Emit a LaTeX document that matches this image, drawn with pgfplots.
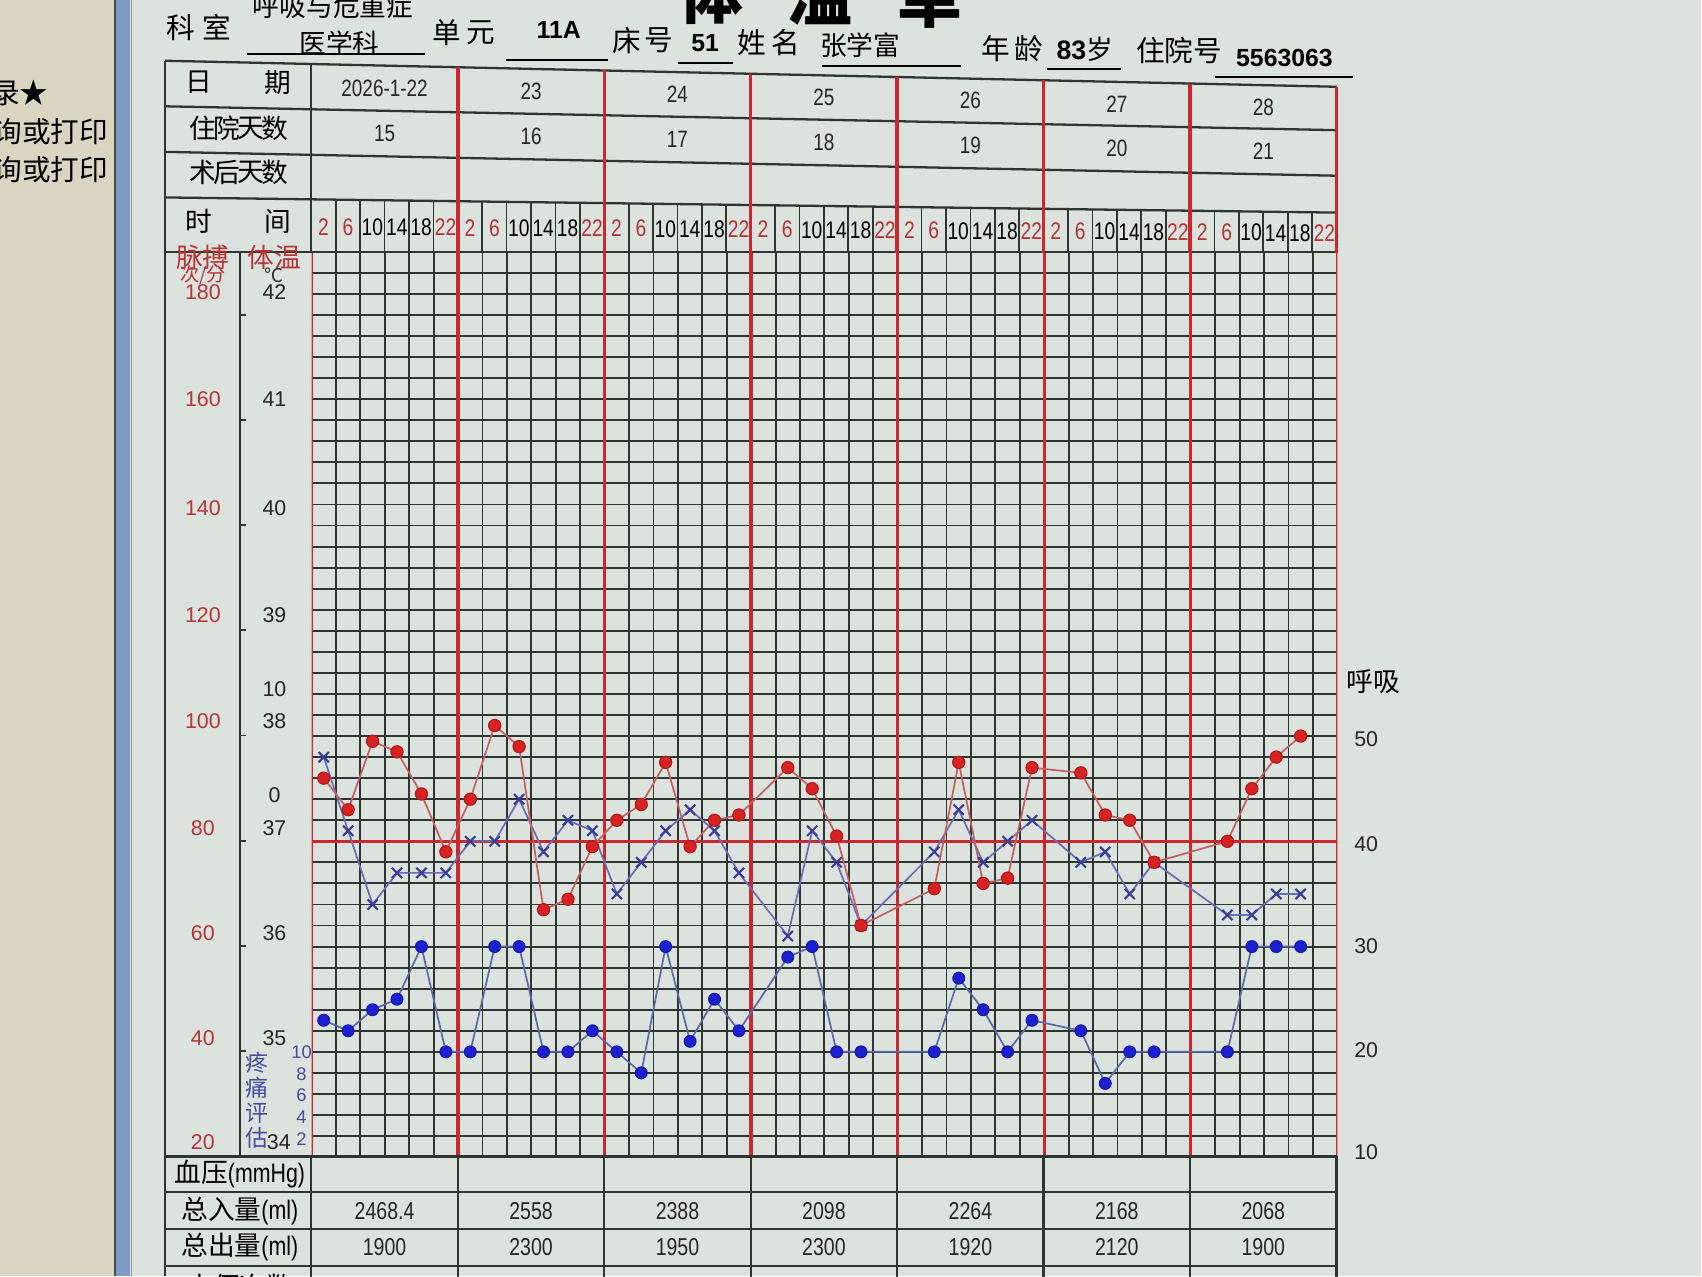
\documentclass[border=0pt]{standalone}
\usepackage{pgfplots}
\pgfplotsset{compat=1.18}
\usepackage{pgfplotstable}
\usepackage{fontspec}
\setmainfont{Noto Sans CJK SC}
\newfontfamily\numfont[FakeStretch=0.8]{Liberation Sans}
\newfontfamily\digfont{Liberation Sans}

\definecolor{bgc}{HTML}{DCE3DE}
\definecolor{leftbg}{HTML}{D8D6C1}
\definecolor{barc}{HTML}{7C9CC2}
\definecolor{gridc}{HTML}{2F3632}
\definecolor{dayred}{HTML}{C8282E}
\definecolor{pulsec}{HTML}{D82222}
\definecolor{pulseln}{HTML}{C46060}
\definecolor{tempc}{HTML}{3A3C9C}
\definecolor{templn}{HTML}{6A6CB4}
\definecolor{respc}{HTML}{1C20D0}
\definecolor{respln}{HTML}{5C68A8}
\definecolor{labred}{HTML}{B83434}
\definecolor{painc}{HTML}{4A4A9E}

\pgfplotstableread{
x p
0.5 92
1.5 86
2.5 99
3.5 97
4.5 89
5.5 78
6.5 88
7.5 102
8.5 98
9.5 67
10.5 69
11.5 79
12.5 84
13.5 87
14.5 95
15.5 79
16.5 84
17.5 85
19.5 94
20.5 90
21.5 81
22.5 64
25.5 71
26.5 95
27.5 72
28.5 73
29.5 94
31.5 93
32.5 85
33.5 84
34.5 76
37.5 80
38.5 90
39.5 96
40.5 100
}\tbpulse

\pgfplotstableread{
x t
0.5 37.8
1.5 37.1
2.5 36.4
3.5 36.7
4.5 36.7
5.5 36.7
6.5 37.0
7.5 37.0
8.5 37.4
9.5 36.9
10.5 37.2
11.5 37.1
12.5 36.5
13.5 36.8
14.5 37.1
15.5 37.3
16.5 37.1
17.5 36.7
19.5 36.1
20.5 37.1
21.5 36.8
22.5 36.2
25.5 36.9
26.5 37.3
27.5 36.8
28.5 37.0
29.5 37.2
31.5 36.8
32.5 36.9
33.5 36.5
34.5 36.8
37.5 36.3
38.5 36.3
39.5 36.5
40.5 36.5
}\tbtemp

\pgfplotstableread{
x r
0.5 23
1.5 22
2.5 24
3.5 25
4.5 30
5.5 20
6.5 20
7.5 30
8.5 30
9.5 20
10.5 20
11.5 22
12.5 20
13.5 18
14.5 30
15.5 21
16.5 25
17.5 22
19.5 29
20.5 30
21.5 20
22.5 20
25.5 20
26.5 27
27.5 24
28.5 20
29.5 23
31.5 22
32.5 17
33.5 20
34.5 20
37.5 20
38.5 30
39.5 30
40.5 30
}\tbresp

\begin{document}
\begin{tikzpicture}
\path[use as bounding box] (0,0) rectangle (15.68cm,-11.76cm);
\clip (0,0) rectangle (15.68cm,-11.76cm);
\begin{scope}[x=0.01cm,y=-0.01cm]
\fill[bgc] (0,0) rectangle (1568,1176);
\fill[leftbg] (0,0) rectangle (106,1176);
\node[anchor=east,font=\fontsize{7.5}{8}\selectfont] at (57,85) {护理记录★};
\node[anchor=east,font=\fontsize{7.5}{8}\selectfont] at (112,121) {记录（查询或打印};
\node[anchor=east,font=\fontsize{7.5}{8}\selectfont] at (112,156) {报表（查询或打印};
\fill[barc] (106,0) rectangle (120,1176);
\draw[black!70,line width=0.5pt] (106,0) -- (106,1176);
\draw[black!40,line width=0.4pt] (121,0) -- (121,1176);
% title
\node[font=\fontsize{17}{18}\selectfont\bfseries] at (655,-6) {体};
\node[font=\fontsize{17}{18}\selectfont\bfseries] at (756,-4) {温};
\node[font=\fontsize{17}{18}\selectfont\bfseries] at (857,-2) {单};
% header line
\node[font=\fontsize{7.5}{8}\selectfont] at (167,25) {科};
\node[font=\fontsize{7.5}{8}\selectfont] at (200,25) {室};
\node[font=\fontsize{7}{8}\selectfont] at (307,6) {呼吸与危重症};
\node[font=\fontsize{7}{8}\selectfont] at (313,40) {医学科};
\draw[black,line width=0.5pt] (228,50) -- (392,50);
\node[font=\fontsize{7.5}{8}\selectfont] at (412,30) {单};
\node[font=\fontsize{7.5}{8}\selectfont] at (443,30) {元};
\node[font=\digfont\fontsize{6.5}{7}\selectfont\bfseries] at (515,28) {11A};
\draw[black,line width=0.5pt] (466,55) -- (560,55);
\node[font=\fontsize{7.5}{8}\selectfont] at (578,37) {床};
\node[font=\fontsize{7.5}{8}\selectfont] at (607,37) {号};
\node[font=\digfont\fontsize{6.5}{7}\selectfont\bfseries] at (650,40) {51};
\draw[black,line width=0.5pt] (625,58) -- (676,58);
\node[font=\fontsize{7.5}{8}\selectfont] at (693,39) {姓};
\node[font=\fontsize{7.5}{8}\selectfont] at (724,39) {名};
\node[font=\fontsize{7}{8}\selectfont] at (793,42) {张学富};
\draw[black,line width=0.5pt] (758,61) -- (886,61);
\node[font=\fontsize{7.5}{8}\selectfont] at (918,45) {年};
\node[font=\fontsize{7.5}{8}\selectfont] at (948,45) {龄};
\node[font=\fontsize{7}{8}\selectfont] at (1000,45) {\digfont\bfseries 83\normalfont 岁};
\draw[black,line width=0.5pt] (965,64) -- (1033,64);
\node[font=\fontsize{7.5}{8}\selectfont] at (1087,47) {住院号};
\node[font=\digfont\fontsize{6.5}{7}\selectfont\bfseries] at (1184,53) {5563063};
\draw[black,line width=0.5pt] (1120,71) -- (1247,71);
\end{scope}

\begin{axis}[
  at={(2.87cm,-10.66cm)}, anchor=south west,
  width=9.45cm, height=8.34cm, scale only axis,
  xmin=0, xmax=42, ymin=34, ymax=42.6,
  xtick=\empty, ytick=\empty,
  axis line style={draw=none},
]
\pgfplotsinvokeforeach{0,...,43}{\draw[gridc,line width=0.5pt] (axis cs:0,{34+0.2*#1}) -- (axis cs:42,{34+0.2*#1});}
\pgfplotsinvokeforeach{1,...,41}{\draw[gridc,line width=0.5pt] (axis cs:#1,34) -- (axis cs:#1,42.6);}
\draw[dayred,line width=0.8pt] (axis cs:0,37) -- (axis cs:42,37);
\pgfplotsinvokeforeach{0,6,12,18,24,30,36,42}{\draw[dayred,line width=0.9pt] (axis cs:#1,34) -- (axis cs:#1,42.6);}
\addplot[templn,line width=0.45pt,mark=x,mark size=1.9pt,mark options={draw=tempc,line width=0.55pt}] table[x=x,y=t] {\tbtemp};
\addplot[pulseln,line width=0.45pt,mark=*,mark size=1.6pt,mark options={fill=pulsec,draw=pulsec!80!black,line width=0.3pt}] table[x=x,y expr={(\thisrow{p}+660)/20}] {\tbpulse};
\addplot[respln,line width=0.45pt,mark=*,mark size=1.55pt,mark options={fill=respc,draw=respc!80!black,line width=0.3pt}] table[x=x,y expr={(\thisrow{r}+330)/10}] {\tbresp};
\end{axis}

\begin{scope}[x=0.01cm,y=-0.01cm]
% header table
\draw[gridc,line width=0.6pt] (152,56) -- (1232,80);
\draw[gridc,line width=0.6pt] (152,98) -- (1232,120);
\draw[gridc,line width=0.6pt] (152,140) -- (1232,162);
\draw[gridc,line width=0.6pt] (152,182) -- (1232,196);
\draw[gridc,line width=0.6pt] (152,232) -- (1232,232);
\foreach \j in {1,...,41}{
  \pgfmathsetmacro\xx{287+22.5*\j}
  \pgfmathsetmacro\yy{182+(\xx-152)/1080*14}
  \draw[gridc,line width=0.45pt] (\xx,\yy) -- (\xx,232);
}
\foreach \k in {1,...,7}{
  \pgfmathsetmacro\xx{287+135*\k}
  \pgfmathsetmacro\yy{56+(\xx-152)/1080*24}
  \draw[dayred,line width=0.9pt] (\xx,\yy) -- (\xx,233);
}
\draw[gridc,line width=0.6pt] (287,59) -- (287,232);
\draw[gridc,line width=0.7pt] (152,56) -- (152,1176);
\draw[gridc,line width=0.6pt] (221,232) -- (221,1066);
\foreach \t in {35,...,42}{
  \draw[gridc,line width=0.5pt] (221,{1066-97*(\t-34)}) -- (227,{1066-97*(\t-34)});
}
% left labels
\node[font=\fontsize{7}{8}\selectfont] at (183,76) {日};
\node[font=\fontsize{7}{8}\selectfont] at (256,76) {期};
\foreach \c [count=\i from 0] in {住,院,天,数}{
  \node[font=\fontsize{7}{8}\selectfont] at ({187+22*\i},118) {\c};
}
\foreach \c [count=\i from 0] in {术,后,天,数}{
  \node[font=\fontsize{7}{8}\selectfont] at ({187+22*\i},159) {\c};
}
\node[font=\fontsize{7}{8}\selectfont] at (183,204) {时};
\node[font=\fontsize{7}{8}\selectfont] at (256,204) {间};
% dates
\foreach \lab [count=\k from 0] in {2026-1-22,23,24,25,26,27,28}{
  \pgfmathsetmacro\cx{287+135*\k+67.5}
  \pgfmathsetmacro\cy{(56+98)/2+(\cx-152)/1080*23}
  \node[font=\numfont\fontsize{6.2}{7}\selectfont,text=black!85] at (\cx,\cy) {\lab};
}
\foreach \lab [count=\k from 0] in {15,16,17,18,19,20,21}{
  \pgfmathsetmacro\cx{287+135*\k+67.5}
  \pgfmathsetmacro\cy{(98+140)/2+(\cx-152)/1080*22}
  \node[font=\numfont\fontsize{6.2}{7}\selectfont,text=black!85] at (\cx,\cy) {\lab};
}
\foreach \k in {0,...,6}{
  \foreach \t [count=\j from 0] in {2,6,10,14,18,22}{
    \pgfmathsetmacro\cx{287+135*\k+22.5*\j+11.25}
    \pgfmathsetmacro\cy{(182+232)/2+(\cx-152)/1080*7+1}
    \ifnum\j<2 \def\tc{labred}\else\ifnum\j=5 \def\tc{labred}\else\def\tc{black}\fi\fi
    \node[text=\tc,font=\numfont\fontsize{6.3}{7}\selectfont,inner sep=0pt] at (\cx,\cy) {\t};
  }
}
% column headers
\node[text=labred,font=\fontsize{7}{8}\selectfont] at (187,237) {脉搏};
\node[text=labred,font=\fontsize{5}{6}\selectfont,inner sep=0pt] at (187,254) {次/分};
\node[text=labred,font=\fontsize{7}{8}\selectfont] at (253,237) {体温};
\node[text=black!80,font=\fontsize{5}{6}\selectfont,inner sep=0pt] at (253,254) {℃};
% pulse and temperature labels
\foreach \p/\tt/\yy in {180/42/269,160/41/368,140/40/468,120/39/567,100/38/665,80/37/763,60/36/860,40/35/957}{
  \node[text=labred,font=\digfont\fontsize{5.6}{6}\selectfont,inner sep=0pt] at (187,\yy) {\p};
  \node[text=black!85,font=\digfont\fontsize{5.6}{6}\selectfont,inner sep=0pt] at (253,\yy) {\tt};
}
\node[text=labred,font=\digfont\fontsize{5.6}{6}\selectfont] at (187,1053) {20};
\node[text=black!85,font=\digfont\fontsize{5.6}{6}\selectfont] at (257,1053) {34};
\node[text=black!85,font=\digfont\fontsize{5.6}{6}\selectfont] at (253,635) {10};
\node[text=black!85,font=\digfont\fontsize{5.6}{6}\selectfont] at (253,733) {0};
% pain scale
\foreach \c [count=\i from 0] in {疼,痛,评,估}{
  \node[text=painc,font=\fontsize{6}{7}\selectfont] at (237,{980+23*\i}) {\c};
}
\foreach \v [count=\i from 0] in {10,8,6,4,2}{
  \node[text=painc,font=\digfont\fontsize{4.8}{5}\selectfont] at (278,{970+20*\i}) {\v};
}
% right labels
\node[font=\fontsize{7}{8}\selectfont] at (1266,628) {呼吸};
\foreach \r/\yy in {50/681,40/778,30/872,20/968,10/1062}{
  \node[anchor=west,text=black!85,font=\digfont\fontsize{5.6}{6}\selectfont] at (1236,\yy) {\r};
}
% bottom table
\foreach \yy in {1066,1099,1133,1167,1201}{
  \draw[gridc,line width=0.6pt] (152,\yy) -- (1232,\yy);
}
\foreach \k in {0,...,7}{
  \draw[gridc,line width=0.6pt] ({287+135*\k},1066) -- ({287+135*\k},1201);
}
\node[font=\fontsize{7}{8}\selectfont] at (221,1082) {血压{\numfont (mmHg)}};
\node[font=\fontsize{7}{8}\selectfont] at (221,1116) {总入量{\numfont (ml)}};
\node[font=\fontsize{7}{8}\selectfont] at (221,1150) {总出量{\numfont (ml)}};
\node[font=\fontsize{7}{8}\selectfont] at (221,1186) {大便次数};
\foreach \v [count=\k from 0] in {2468.4,2558,2388,2098,2264,2168,2068}{
  \node[font=\numfont\fontsize{6.4}{7}\selectfont,text=black!85] at ({287+135*\k+67.5},1116) {\v};
}
\foreach \v [count=\k from 0] in {1900,2300,1950,2300,1920,2120,1900}{
  \node[font=\numfont\fontsize{6.4}{7}\selectfont,text=black!85] at ({287+135*\k+67.5},1150) {\v};
}
\end{scope}
\end{tikzpicture}
\end{document}
